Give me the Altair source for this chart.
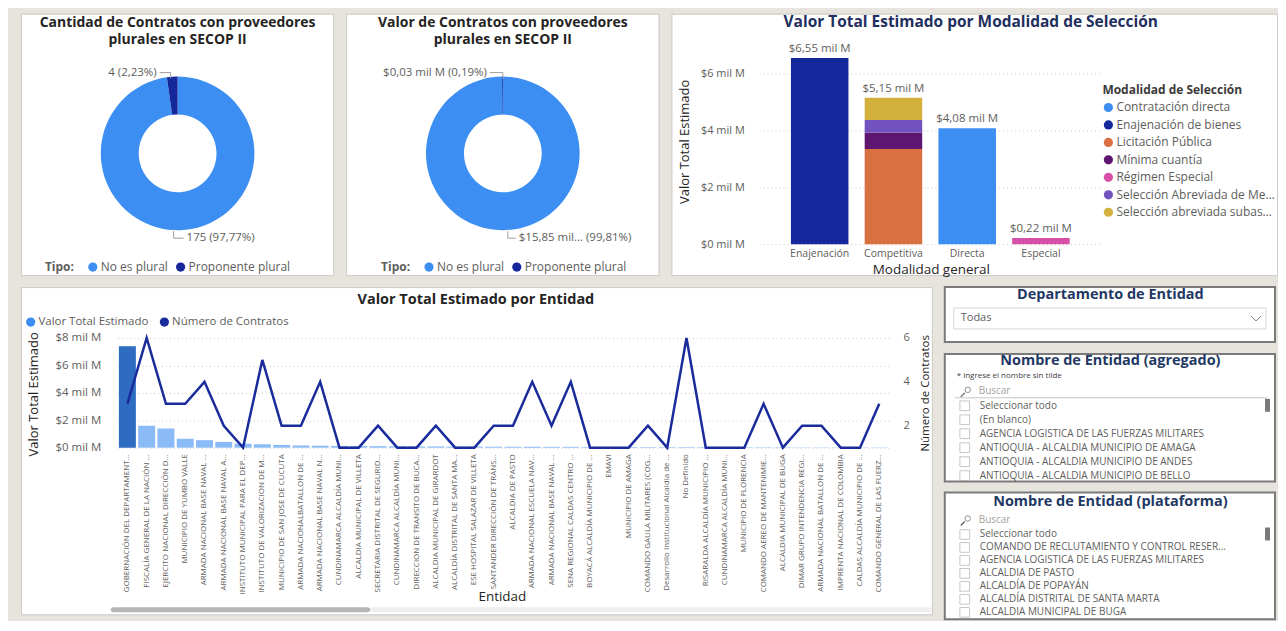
import altair as alt
import pandas as pd

# ---------------- data ----------------
tipos = ["No es plural", "Proponente plural"]
cantidad_contratos = [175, 4]
cantidad_etiquetas = ["175 (97,77%)", "4 (2,23%)"]
valor_contratos = [15.85, 0.03]  # mil M
valor_etiquetas = ["$15,85 mil... (99,81%)", "$0,03 mil M (0,19%)"]

modalidad_general = ["Enajenación", "Competitiva", "Directa", "Especial"]
modalidades = ["Contratación directa", "Enajenación de bienes", "Licitación Pública",
               "Mínima cuantía", "Régimen Especial",
               "Selección Abreviada de Menor Cuantía", "Selección abreviada subasta inversa"]
seg_general = ["Enajenación", "Competitiva", "Competitiva", "Competitiva", "Competitiva",
               "Directa", "Especial"]
seg_modalidad = ["Enajenación de bienes", "Licitación Pública", "Mínima cuantía",
                 "Selección Abreviada de Menor Cuantía", "Selección abreviada subasta inversa",
                 "Contratación directa", "Régimen Especial"]
seg_valor = [6.55, 3.35, 0.58, 0.44, 0.78, 4.08, 0.22]
ticks_modalidad = [0, 2, 4, 6]

entidades = [
    "GOBERNACIÓN DEL DEPARTAMENT...", "FISCALÍA GENERAL DE LA NACIÓN ...",
    "EJERCITO NACIONAL DIRECCIÓN D...", "MUNICIPIO DE YUMBO VALLE",
    "ARMADA NACIONAL BASE NAVAL ...", "ARMADA NACIONAL BASE NAVAL A...",
    "INSTITUTO MUNICIPAL PARA EL DEP...", "INSTITUTO DE VALORIZACION DE M...",
    "MUNICIPIO DE SAN JOSE DE CUCUTA", "ARMADA NACIONALBATALLON DE ...",
    "ARMADA NACIONAL BASE NAVAL N...", "CUNDINAMARCA ALCALDÍA MUNI...",
    "ALCALDIA MUNICIPAL DE VILLETA", "SECRETARIA DISTRITAL DE SEGURID...",
    "CUNDINAMARCA ALCALDÍA MUNI...", "DIRECCION DE TRANSITO DE BUCA...",
    "ALCALDIA MUNICIPAL DE GIRARDOT", "ALCALDÍA DISTRITAL DE SANTA MA...",
    "ESE HOSPITAL SALAZAR DE VILLETA", "SANTANDER DIRECCIÓN DE TRÁNS...",
    "ALCALDIA DE PASTO", "ARMADA NACIONAL ESCUELA NAV...",
    "ARMADA NACIONAL BASE NAVAL ...", "SENA REGIONAL CALDAS CENTRO ...",
    "BOYACÁ ALCALDÍA MUNICIPIO DE ...", "EMAVI", "MUNICIPIO DE AMAGA",
    "COMANDO GAULA MILITARES (COG...", "Desarrollo Institucional Alcaldía de ...",
    "No Definido", "RISARALDA ALCALDÍA MUNICIPIO ...", "CUNDINAMARCA ALCALDÍA MUNI...",
    "MUNICIPIO DE FLORENCIA", "COMANDO AEREO DE MANTENIMIE...",
    "ALCALDIA MUNICIPAL DE BUGA", "DIMAR GRUPO INTENDENCIA REGI...",
    "ARMADA NACIONAL BATALLON DE ...", "IMPRENTA NACIONAL DE COLOMBIA",
    "CALDAS ALCALDÍA MUNICIPIO DE ...", "COMANDO GENERAL DE LAS FUERZ...",
]
valor_entidad = [7.40, 1.60, 1.40, 0.65, 0.55, 0.42, 0.29, 0.25, 0.20, 0.16,
                 0.14, 0.13, 0.12, 0.11, 0.10, 0.09, 0.09, 0.08, 0.08, 0.07,
                 0.07, 0.06, 0.06, 0.06, 0.05, 0.05, 0.05, 0.04, 0.04, 0.04,
                 0.04, 0.03, 0.03, 0.03, 0.03, 0.02, 0.02, 0.02, 0.02, 0.02]
contratos_entidad = [3, 6, 3, 3, 4, 2, 1, 5, 2, 2, 4, 1, 1, 2, 1, 1, 2, 1, 1, 2,
                     2, 4, 2, 4, 1, 1, 1, 2, 1, 6, 1, 1, 1, 3, 1, 2, 2, 1, 1, 3]
series_entidad = ["Valor Total Estimado", "Número de Contratos"]
ticks_valor = [0, 2, 4, 6, 8]
ticks_contratos = [2, 4, 6]

departamento_opcion = "Todas"
agregado_items = ["Seleccionar todo", "(En blanco)",
                  "AGENCIA LOGISTICA DE LAS FUERZAS MILITARES",
                  "ANTIOQUIA - ALCALDIA MUNICIPIO DE AMAGA",
                  "ANTIOQUIA - ALCALDIA MUNICIPIO DE ANDES",
                  "ANTIOQUIA - ALCALDIA MUNICIPIO DE BELLO"]
plataforma_items = ["Seleccionar todo", "COMANDO DE RECLUTAMIENTO Y CONTROL RESER...",
                    "AGENCIA LOGISTICA DE LAS FUERZAS MILITARES", "ALCALDIA DE PASTO",
                    "ALCALDÍA DE POPAYÁN", "ALCALDÍA DISTRITAL DE SANTA MARTA",
                    "ALCALDIA MUNICIPAL DE BUGA"]

# ---------------- styles ----------------
FONT = "Open Sans"
BG = "#e6e4dc"
GRAY = "#605e5c"
DARK = "#252423"
NAVY_T = "#1f2f5e"
SLICER_T = "#1f3864"
LB = "#3d8ef2"
DB = "#14279b"
LINE = "#1a2b9c"
BAR1 = "#2e6cc2"
MOD_COLORS = ["#3d8ef2", "#14279b", "#d9703f", "#5f1670", "#d851a8", "#7152be", "#d4b13c"]
PANEL = alt.ViewBackground(fill="white", stroke="#cbc9c4", strokeWidth=1)
SLICER = alt.ViewBackground(fill="white", stroke="#7a7a7a", strokeWidth=2)

ONE = pd.DataFrame({"k": [0]})


def txt(s, x, y, size=11, color=GRAY, weight="normal", align="center",
        baseline="middle", font=FONT, angle=0):
    return alt.Chart(pd.DataFrame({"t": [s]})).mark_text(
        fontSize=size, color=color, fontWeight=weight, align=align,
        baseline=baseline, font=font, angle=angle
    ).encode(text="t:N", x=alt.value(x), y=alt.value(y))


def seg(x, y, x2, y2, color="#a19f9d", width=1):
    return alt.Chart(ONE).mark_rule(color=color, strokeWidth=width).encode(
        x=alt.value(x), y=alt.value(y), x2=alt.value(x2), y2=alt.value(y2))


def box(x, x2, y, y2, fill, stroke="", radius=0):
    kw = dict(fill=fill, cornerRadius=radius)
    if stroke:
        kw.update(stroke=stroke, strokeWidth=1)
    return alt.Chart(ONE).mark_rect(**kw).encode(
        x=alt.value(x), x2=alt.value(x2), y=alt.value(y), y2=alt.value(y2))


def uniq(names):
    seen, out = {}, []
    for n in names:
        c = seen.get(n, 0)
        out.append(n + "\u200b" * c)
        seen[n] = c + 1
    return out


def indep(ch):
    return ch.resolve_scale(color="independent", opacity="independent").resolve_legend(
        color="independent")


# ---------------- donut panels ----------------
def donut_panel(t1, t2, valores, etiquetas, legend_x, top_lab, bot_lab):
    df = pd.DataFrame({"Tipo": tipos, "valor": valores, "orden": [0, 1]})
    cx, cy = 157, 140
    arc = alt.Chart(df).mark_arc(innerRadius=39, outerRadius=77).encode(
        theta=alt.Theta("valor:Q", stack=True),
        order=alt.Order("orden:Q"),
        color=alt.Color("Tipo:N", scale=alt.Scale(domain=tipos, range=[LB, DB]),
                        legend=alt.Legend(orient="none", legendX=legend_x, legendY=248,
                                          direction="horizontal", title="Tipo:",
                                          titleOrient="left", titleFontSize=12,
                                          titleFontWeight="bold", titleColor=GRAY,
                                          labelFontSize=12, labelColor=GRAY,
                                          symbolType="circle", symbolSize=85,
                                          columnPadding=6, titlePadding=12,
                                          labelOffset=2)),
        x=alt.value(cx), y=alt.value(cy))
    (tx, tl1, tl2, tlx), (bx, bl1, bl2) = top_lab, bot_lab
    layers = [
        arc,
        txt(t1, 157, 9, 14, DARK, "bold"),
        txt(t2, 157, 26, 14, DARK, "bold"),
        txt(etiquetas[1], tx, 59, 11.5, GRAY, align="right"),
        seg(tl1, 59, tl2, 59), seg(tlx, 59, tlx, 65),
        txt(etiquetas[0], bx, 225, 11.5, GRAY, align="left"),
        seg(bl1, 218, bl1, 225), seg(bl1, 225, bl2, 225),
    ]
    return alt.layer(*layers).properties(width=313, height=262, view=PANEL)


panelA = donut_panel("Cantidad de Contratos con proveedores", "plurales en SECOP II",
                     cantidad_contratos, cantidad_etiquetas, 24,
                     (136, 139, 150, 150), (166, 153, 163))
panelB = donut_panel("Valor de Contratos con proveedores", "plurales en SECOP II",
                     valor_contratos, valor_etiquetas, 35,
                     (141, 144, 157, 157), (173, 162, 170))

# ---------------- modalidad panel ----------------
dfC = pd.DataFrame({"general": seg_general, "modalidad": seg_modalidad, "valor": seg_valor})
dfC["pila"] = [modalidades.index(m) for m in dfC["modalidad"]]
tot = dfC.groupby("general", sort=False)["valor"].sum().reset_index()
tot["etiqueta"] = ["$" + f"{v:.2f}".replace(".", ",") + " mil M" for v in tot["valor"]]

xC = alt.X("general:N", sort=modalidad_general,
           scale=alt.Scale(domain=modalidad_general, range=[88, 431],
                           paddingInner=0.22, paddingOuter=0.43),
           axis=alt.Axis(title="Modalidad general", offset=-31, labelFontSize=10.5,
                         labelAngle=0, labelPadding=4, labelColor=GRAY, titleX=260,
                         titleY=25, titleFontSize=13.5, titleFontWeight="normal",
                         titleColor=DARK, titleBaseline="middle", domain=False,
                         ticks=False))
yC = alt.Y("valor:Q",
           scale=alt.Scale(domain=[0, 7], range=[231, 31.5]),
           axis=alt.Axis(values=ticks_modalidad, labelExpr="'$' + datum.value + ' mil M'",
                         grid=True, gridDash=[1, 3], gridColor="#c8c6c4", offset=-76,
                         labelPadding=3, labelFontSize=11, labelColor=GRAY,
                         title="Valor Total Estimado", titleX=-63, titleY=128,
                         titleAngle=270, titleAlign="center", titleBaseline="middle",
                         titleFontSize=13, titleFontWeight="normal", titleColor=DARK,
                         domain=False, ticks=False))
barsC = alt.Chart(dfC).mark_bar().encode(
    x=xC, y=yC,
    order=alt.Order("pila:Q", sort="ascending"),
    color=alt.Color("modalidad:N", scale=alt.Scale(domain=modalidades, range=MOD_COLORS),
                    legend=alt.Legend(orient="none", legendX=432, legendY=71,
                                      title="Modalidad de Selección", titleFontSize=12,
                                      titleFontWeight="bold", titleColor="#3b3a39",
                                      labelFontSize=12, labelColor=GRAY, symbolType="circle",
                                      symbolSize=85, rowPadding=5.5, titlePadding=5,
                                      labelLimit=160, labelOffset=2)))
labC = alt.Chart(tot).mark_text(baseline="bottom", dy=-4, fontSize=11.5, color=GRAY).encode(
    x=xC, y=yC, text="etiqueta:N")
panelC = alt.layer(
    barsC, labC,
    txt("Valor Total Estimado por Modalidad de Selección", 300, 8, 15.5, NAVY_T, "bold"),
).properties(width=607, height=262, view=PANEL)

# ---------------- entidad panel ----------------
dfD = pd.DataFrame({"Entidad": uniq(entidades), "Valor": valor_entidad,
                    "Contratos": contratos_entidad, "orden": list(range(len(entidades))),
                    "serie": series_entidad[0]})
Y0, Y1 = 161, 51
xD = alt.X("Entidad:N", sort=None,
           scale=alt.Scale(range=[97, 870], paddingInner=0.12, paddingOuter=0.06),
           axis=alt.Axis(title="Entidad", offset=Y0 - 328, labelAngle=270, labelFontSize=8,
                         labelPadding=6, labelColor=GRAY, labelLimit=200,
                         titleX=482, titleY=149, titleFontSize=13.5,
                         titleFontWeight="normal", titleColor=DARK, titleBaseline="middle",
                         domain=False, ticks=False))
barsD = alt.Chart(dfD).mark_bar().encode(
    x=xD,
    y=alt.Y("Valor:Q", scale=alt.Scale(domain=[0, 8], range=[Y0, Y1]),
            axis=alt.Axis(values=ticks_valor, labelExpr="'$' + datum.value + ' mil M'",
                          grid=True, gridDash=[1, 3], gridColor="#c8c6c4", offset=-83,
                          labelPadding=3, labelFontSize=11.5, labelColor=GRAY,
                          title="Valor Total Estimado", titleX=-70, titleY=107,
                          titleAngle=270, titleAlign="center", titleBaseline="middle",
                          titleFontSize=13, titleFontWeight="normal", titleColor=DARK,
                          domain=False, ticks=False)),
    color=alt.condition(alt.datum.orden == 0, alt.value(BAR1),
                        alt.Color("serie:N",
                                  scale=alt.Scale(domain=series_entidad, range=[LB, LINE]),
                                  legend=alt.Legend(orient="none", legendX=4, legendY=29,
                                                    direction="horizontal", title=None,
                                                    labelFontSize=11.5, labelColor=GRAY,
                                                    symbolType="circle", symbolSize=85,
                                                    columnPadding=10, labelOffset=2))),
    opacity=alt.condition(alt.datum.orden == 0, alt.value(1), alt.value(0.6)),
)
lineD = alt.Chart(dfD).mark_line(color=LINE, strokeWidth=2.5).encode(
    x=xD,
    y=alt.Y("Contratos:Q", scale=alt.Scale(domain=[1, 6], range=[Y0, Y1]),
            axis=alt.Axis(orient="right", values=ticks_contratos, offset=-32,
                          labelPadding=3, labelFontSize=11, labelColor=GRAY,
                          title="Número de Contratos", titleX=26, titleY=106,
                          titleAngle=270, titleAlign="center", titleBaseline="middle",
                          titleFontSize=11.5, titleFontWeight="normal", titleColor=DARK,
                          domain=False, ticks=False, grid=False)))
panelD = alt.layer(
    barsD, lineD,
    txt("Valor Total Estimado por Entidad", 456, 13, 14.5, DARK, "bold"),
    box(350, 913, 321, 326, "#efefef", radius=2),
    box(90, 350, 321, 326, "#b5b5b5", radius=2.5),
).resolve_scale(y="independent").properties(width=913, height=328, view=PANEL)

# ---------------- slicers ----------------
E1 = alt.layer(
    txt("Departamento de Entidad", 166, 8, 14.5, SLICER_T, "bold"),
    box(9, 322, 21, 42, "white", stroke="#d6d6d6"),
    txt(departamento_opcion, 16, 31.5, 11, GRAY, align="left"),
    seg(307, 29, 312, 34, "#808080"), seg(312, 34, 317, 29, "#808080"),
).properties(width=331, height=55, view=SLICER)


def lista(items, top, step):
    dfl = pd.DataFrame({"item": items})
    yl = alt.Y("item:N", sort=None, axis=None,
               scale=alt.Scale(type="point", range=[top, top + step * (len(items) - 1)],
                               padding=0))
    chk = alt.Chart(dfl).mark_point(shape="square", filled=False, size=95,
                                    color="#b3b0ad", strokeWidth=1, clip=True).encode(
        x=alt.value(20), y=yl)
    lab = alt.Chart(dfl).mark_text(align="left", fontSize=10, color=GRAY, clip=True).encode(
        x=alt.value(35), y=yl, text="item:N")
    return [chk, lab]


def buscar(y):
    return [
        alt.Chart(ONE).mark_point(shape="circle", filled=False, size=30, color="#605e5c",
                                  strokeWidth=1).encode(x=alt.value(23), y=alt.value(y - 1)),
        seg(20, y + 2, 16, y + 6, "#605e5c", 1.2),
        txt("Buscar", 34, y, 10, "#a19f9d", align="left"),
    ]


E2 = alt.layer(
    txt("Nombre de Entidad (agregado)", 166, 7, 14.5, SLICER_T, "bold"),
    txt("* ingrese el nombre sin tilde", 12, 22, 8, "#404040", align="left"),
    *buscar(37),
    seg(10, 44, 323, 44, "#c8c6c4"),
    *lista(agregado_items, 52, 14),
    box(321, 326, 45, 58, "#7a7a7a"),
).properties(width=331, height=128, view=SLICER)

E3 = alt.layer(
    txt("Nombre de Entidad (plataforma)", 166, 9, 14.5, SLICER_T, "bold"),
    *buscar(27),
    *lista(plataforma_items, 42, 13),
    box(321, 326, 35, 48, "#7a7a7a"),
).properties(width=331, height=127, view=SLICER)

panelE = indep(alt.vconcat(E1, E2, E3, spacing=9)).resolve_scale(y="independent")

row1 = indep(alt.hconcat(panelA, panelB, panelC, spacing=11))
row2 = indep(alt.hconcat(panelD, panelE, spacing=11))

chart = indep(alt.vconcat(row1, row2, spacing=10)).properties(
    background=BG, padding={"left": 12, "top": 4, "right": 0, "bottom": 0}
).configure(font=FONT).configure_view(stroke="#cbc9c4")

chart.save("out.html", embed_options={"renderer": "svg", "actions": False})
